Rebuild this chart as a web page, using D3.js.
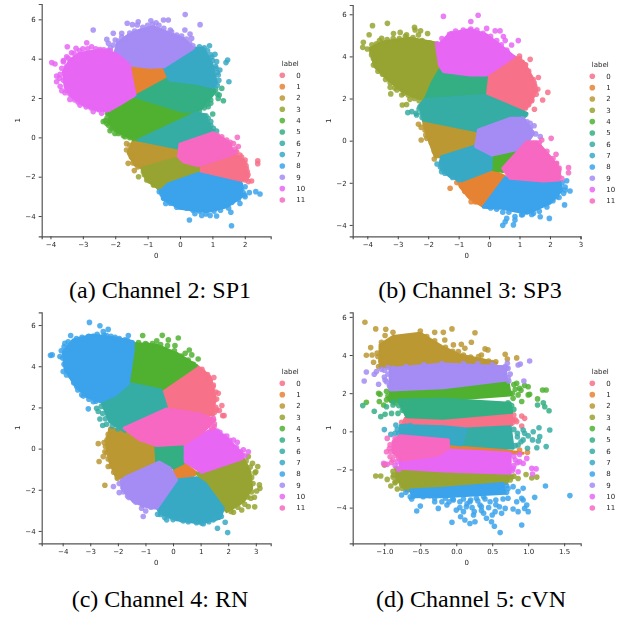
<!DOCTYPE html>
<html>
<head>
<meta charset="utf-8">
<script src="https://cdn.jsdelivr.net/npm/d3@7"></script>
<style>
    body { margin: 0; background: #fff; }
    svg { display: block; }
    .soft { filter: blur(0.45px); }
    .tick text, .small { font-family: "DejaVu Sans", sans-serif; font-size: 7px; fill: #262626; }
    .caption { font-family: "Liberation Serif", serif; font-size: 24px; fill: #000; }
</style>
</head>
<body>
<script>
// Cluster labels and hue colours
const labels = ["0", "1", "2", "3", "4", "5", "6", "7", "8", "9", "10", "11"];
const colors = ["#f77189", "#e68332", "#bb9832", "#97a431", "#50b131", "#34af84",
    "#36ada4", "#38a9c5", "#3ba3ec", "#a48cf4", "#e866f4", "#f668c2"];

// Dense part of every cluster, as x,y outlines in data units (index = label)
const cellsA = [
    [0.57,-1.44, 1.65,-0.85, 1.96,-1.15, 2.11,-2.0, 1.85,-2.25, 0.57,-1.80],
    [-1.57,3.68, -0.49,3.56, -0.36,3.05, -1.39,2.19],
    [-1.44,-0.17, -0.02,-0.56, -0.05,-1.02, -1.18,-1.54, -1.39,-1.41, -1.60,-0.81],
    [-1.18,-1.58, -0.05,-1.03, 0.57,-1.41, 0.57,-1.80, -0.36,-2.34, -0.67,-2.59, -1.03,-2.17],
    [-1.39,1.98, 0.10,1.31, 0.51,1.25, -1.29,-0.14, -1.60,0.03, -2.01,0.37, -2.21,0.80, -2.11,1.31, -1.85,1.64],
    [-0.36,3.00, 0.51,2.75, 1.03,2.54, 1.08,2.32, 0.72,1.56, 0.51,1.31, 0.10,1.31, -1.39,2.07],
    [-1.29,-0.14, 0.51,1.25, 0.77,1.14, 0.98,0.37, 0.98,0.20, 0,-0.31, -0.02,-0.56],
    [-0.49,3.56, 0.41,4.53, 0.72,4.53, 0.98,3.76, 1.13,2.75, 1.03,2.54, 0.51,2.75, -0.31,2.92, -0.36,3.05],
    [0.57,-1.83, 1.90,-2.34, 1.90,-3.02, 1.44,-3.53, 0.82,-3.78, 0,-3.61, -0.46,-3.19, -0.62,-2.76, -0.36,-2.37],
    [-2.01,4.27, -1.93,4.78, -1.60,5.20, -1.23,5.46, -0.82,5.63, -0.31,5.29, 0.10,5.03, 0.41,4.53, -0.49,3.59, -0.93,3.56, -1.57,3.68],
    [-2.01,4.27, -2.47,4.44, -3.09,4.27, -3.40,3.93, -3.60,3.34, -3.55,2.58, -3.34,2.07, -2.98,1.64, -2.57,1.39, -2.21,1.36, -1.85,1.69, -1.39,2.15, -1.57,3.68, -1.85,4.10],
    [0,-0.34, 1.03,0.24, 1.54,-0.31, 1.65,-0.85, 0.57,-1.44, 0.10,-1.24, -0.05,-0.98]
];
const cellsB = [
    [-0.08,3.12, 0.82,3.99, 1.13,3.75, 1.40,3.04, 1.57,2.41, 1.35,1.77, 1.13,1.46, -0.13,2.17],
    [-0.90,-1.95, -0.02,-1.34, 0.53,-1.71, -0.19,-3.13, -0.68,-2.66, -0.95,-2.18],
    [-2.16,0.95, -0.37,0.43, -0.44,-0.28, -1.56,-0.76, -1.77,-0.76, -2.05,0.35],
    [-3.91,4.38, -3.47,4.70, -2.60,4.86, -1.70,4.62, -1.63,3.43, -1.88,2.64, -2.10,1.93, -2.49,2.09, -2.92,2.41, -3.36,2.96, -3.75,3.51],
    [0.07,-0.71, 1.02,-0.41, 0.45,-1.47, 0.07,-1.36],
    [-1.63,3.35, -0.08,3.12, -0.15,2.17, -2.10,1.96, -1.88,2.72],
    [-2.27,1.69, -2.10,1.96, -0.13,2.14, 1.24,1.30, -0.41,0.47, -2.16,0.98],
    [-1.56,-0.76, -0.44,-0.25, 0.07,-0.68, 0.07,-1.36, -0.90,-1.91, -1.28,-1.71, -1.56,-1.39, -1.61,-1.08],
    [0.53,-1.76, 2.33,-1.95, 2.39,-2.34, 2.0,-2.97, 1.24,-3.45, 0.42,-3.21, -0.19,-3.16],
    [-0.35,0.51, 0.69,1.06, 1.13,1.06, 1.46,0.35, 1.13,-0.36, 0.09,-0.68, -0.44,-0.28],
    [-1.72,4.46, -1.28,5.09, -0.62,5.28, -0.08,5.02, 0.42,4.46, 0.82,3.99, -0.08,3.12, -0.62,3.12, -1.50,3.28, -1.63,3.59],
    [0.45,-1.31, 1.24,-0.05, 1.57,-0.05, 2.0,-0.76, 2.33,-1.39, 2.28,-1.87, 1.79,-1.91, 0.69,-1.79]
];
const cellsC = [
    [-0.44,2.85, 0.86,4.03, 1.34,3.50, 1.52,2.52, 1.46,1.63, 0.98,1.68, -0.23,1.96],
    [0.04,-1.04, 0.44,-0.76, 0.86,-1.20, 0.56,-1.44, 0.13,-1.47],
    [-2.29,0.99, -1.74,0.83, -0.63,0.13, -0.59,-0.71, -1.68,-1.36, -2.04,-1.44, -2.29,-0.63, -2.41,0.18],
    [0.86,-1.20, 2.55,-0.50, 2.79,-1.12, 2.85,-1.93, 2.55,-2.57, 1.95,-3.06, 1.70,-2.73, 1.16,-1.68],
    [-1.44,5.11, -0.59,5.03, 0.13,4.63, 0.85,4.03, -0.44,2.85, -1.62,3.22],
    [-0.63,0.23, 0.44,0.23, 0.37,-0.71, 0.01,-0.95, -0.59,-0.71],
    [-2.59,2.28, -1.62,3.17, -0.44,2.85, -0.23,1.96, -1.74,0.83, -2.29,1.31],
    [0.13,-1.52, 0.86,-1.41, 1.16,-1.68, 1.83,-2.90, 1.70,-3.38, 0.98,-3.62, 0.13,-3.46, -0.47,-3.14, -0.59,-2.82],
    [-1.44,4.79, -1.62,3.17, -2.10,2.61, -2.65,2.28, -3.13,2.52, -3.56,3.09, -3.92,3.90, -3.98,4.71, -3.62,5.28, -2.89,5.52, -2.04,5.36, -1.44,5.19],
    [-1.68,-1.36, -0.50,-0.66, -0.11,-0.95, 0.13,-1.52, -0.59,-2.90, -0.96,-2.82, -1.44,-2.57, -1.86,-1.93, -1.86,-1.52],
    [0.44,0.18, 1.46,0.99, 1.95,0.50, 2.55,-0.31, 2.49,-0.50, 1.04,-1.15, 0.44,-0.63],
    [-1.77,0.99, -0.23,1.93, 0.98,1.68, 1.52,1.39, 1.10,0.83, 0.44,0.23, -0.59,0.15, -1.20,0.42]
];
const cellsD = [
    [-0.71,0.68, -0.18,0.68, 0.77,0.94, 0.77,0.33, -0.18,0.19, -0.74,0.37],
    [-0.11,-0.72, 0.05,-0.59, 0.38,-0.80, 0.79,-1.07, 0.93,-1.15, 0.38,-1.15, -0.11,-1.07],
    [-1.06,4.53, -0.88,4.97, -0.50,5.14, -0.20,4.44, 0.05,4.0, 0.38,3.74, 0.56,3.57, -0.83,3.39, -1.06,3.39],
    [-0.83,-1.94, -0.18,-2.08, 0.75,-2.29, 0.70,-2.73, -0.18,-2.99, -0.69,-3.13, -0.83,-2.47],
    [-0.92,2.17, -0.18,2.34, 0.72,2.60, 0.75,1.91, -0.18,1.64, -0.92,1.56],
    [-0.81,1.64, -0.18,1.68, 0.75,1.47, 0.77,1.0, -0.18,0.68, -0.69,0.77],
    [0.14,0.12, 0.75,0.24, 0.79,-0.89, 0.05,-0.68],
    [-0.78,0.30, -0.18,0.24, 0.14,0.12, 0.07,-0.72, -0.13,-0.63, -0.78,-0.37],
    [-0.64,-3.08, -0.18,-2.99, 0.65,-2.73, 0.68,-3.25, -0.18,-3.43, -0.60,-3.43],
    [-0.92,3.30, -0.18,3.53, 0.68,3.39, 0.70,2.69, -0.18,2.29, -0.92,2.17],
    [-0.25,-1.15, -0.11,-0.98, 0.38,-1.07, 0.75,-1.15, 0.75,-2.20, -0.18,-2.08, -0.78,-1.94, -0.78,-1.50],
    [-0.78,-0.23, -0.11,-0.45, -0.11,-0.89, -0.25,-1.24, -0.74,-1.50, -0.88,-1.07, -0.88,-0.54]
];

// Loose points around the dense parts, as x,y pairs (index = label)
const pointsA = [
    [2.40,-1.19, 2.40,-1.34, 2.21,-2.22, 2.01,-1.15, 2.04,-1.44, 2.08,-1.75, 2.01,-2.17, 1.85,-0.9, 2.11,-2.25, 1.9,-1.0, 2.0,-1.3, 2.05,-1.6, 2.1,-1.9, 2.05,-2.1, 1.75,-0.75],
    [],
    [-1.65,-0.32, -1.65,-0.64, -1.41,-1.69, -1.49,-0.98, -1.60,-1.32, -1.55,-0.4, -1.55,-0.7, -1.5,-1.0, -1.45,-1.3, -1.3,-1.5],
    [-1.28,-2.0, -1.03,-2.17, -0.82,-2.42, -1.13,-1.75, -1.1,-1.9, -0.95,-2.2, -0.8,-2.4, -0.65,-2.55],
    [-2.37,0.80, -2.24,1.22, -2.16,0.34, -2.01,0.20, -1.70,0.03, -1.44,-0.05, -2.06,0.63, -2.26,0.71, -1.85,0.29, -2.25,1.0, -2.3,0.85, -2.2,0.6, -2.1,0.45, -1.9,0.2, -1.75,0.1, -1.55,-0.02, -2.2,1.2],
    [1.29,2.49, 1.21,2.15, 1.34,1.86, 1.18,1.98, 0.87,1.56, 1.01,1.19, 0.95,1.73, 1.1,2.45, 1.15,2.2, 0.95,1.9, 0.85,1.7, 0.75,1.5, 0.6,1.35],
    [1.03,0.46, 1.13,0.32, 0.87,0.97, 0.8,1.1, 0.95,0.8, 0.95,0.6, 1.0,0.3],
    [0.91,4.66, 1.08,4.22, 0.98,4.07, 1.13,3.85, 1.47,3.93, 1.42,3.80, 1.23,3.42, 1.18,3.17, 1.51,2.83, 1.11,3.51, 0.85,4.4, 0.95,4.2, 1.0,3.9, 1.1,3.6, 1.15,3.3, 1.2,2.9, 1.15,2.65, 0.6,4.6, 0.75,4.55],
    [2.47,-2.88, 2.34,-2.76, 2.14,-2.81, 2.01,-2.51, 1.99,-2.93, 1.85,-3.36, 1.57,-3.81, 1.59,-4.49, 1.13,-4.0, 0.67,-3.97, 0.29,-4.2, 0.93,-3.97, -0.44,-3.36, -0.64,-2.76, 0,-3.53, 0.46,-3.88, 2.01,-3.02, -0.51,-3.08, 1.9,-2.6, 1.95,-2.8, 1.8,-3.15, 1.6,-3.3, 1.5,-3.6, 1.25,-3.7, 1.05,-3.75, 0.8,-3.9, 0.6,-3.75, 0.4,-3.7, 0.2,-3.6, -0.1,-3.55, -0.3,-3.35, -0.5,-3.1, -0.55,-2.9],
    [0.16,6.24, 0.62,5.73, -2.68,5.46, -1.63,5.80, -1.47,5.73, -1.32,5.71, -1.29,5.88, -0.90,5.93, -0.74,5.83, -0.51,5.97, -0.36,5.97, -0.26,5.37, 0.15,5.46, 0.31,5.25, 0.36,5.03, -2.26,4.98, -2.06,5.29, -1.80,5.29, -2.21,4.78, -2.06,4.69, -1.75,4.86, -1.9,4.9, -1.8,5.1, -1.55,5.3, -1.7,5.0, -1.4,5.4, -1.15,5.6, -1.0,5.7, -0.85,5.75, -0.65,5.7, -0.5,5.55, -0.3,5.45, -0.1,5.2, 0.05,5.15, 0.2,5.0, 0.3,4.8, 0.4,4.65, -2.15,4.55, -2.2,4.4, -2.0,4.95],
    [-3.96,3.80, -3.86,3.73, -3.48,4.61, -3.21,4.53, -2.88,4.81, -2.73,4.61, -2.47,4.47, -2.26,4.39, -3.65,3.51, -3.81,3.12, -3.81,2.83, -3.65,2.37, -3.55,2.27, -3.40,1.93, -3.09,1.64, -2.68,1.31, -2.42,1.22, -2.28,1.39, -3.60,3.85, -3.45,4.02, -3.27,4.27, -3.5,3.6, -3.7,3.2, -3.72,3.0, -3.6,2.9, -3.7,2.6, -3.5,2.4, -3.4,2.2, -3.25,1.9, -3.15,1.8, -2.9,1.55, -2.75,1.5, -2.5,1.4, -3.35,4.3, -3.1,4.4, -3.0,4.5, -2.85,4.5, -2.6,4.5, -2.35,4.45, -2.15,4.4, -3.5,4.1, -3.6,3.9],
    [1.77,0, 1.29,0.03, 1.44,-0.14, 1.80,-0.47, 1.65,-0.31, 1.15,0.1, 1.3,-0.1, 1.55,-0.25, 1.7,-0.6, 1.7,-0.75]
];
const pointsB = [
    [1.0,4.02, 1.35,3.86, 1.18,3.59, 1.62,3.0, 1.48,2.75, 1.93,2.29, 1.76,1.93, 1.49,1.49, 1.60,2.44, 1.40,1.93, 1.18,1.61, 1.24,3.2, 1.0,3.9, 1.2,3.6, 1.3,3.3, 1.45,2.9, 1.5,2.6, 1.55,2.2, 1.4,1.9, 1.3,1.7, 1.2,1.55],
    [-1.28,-2.26, -1.06,-1.99, -0.59,-2.90, -0.46,-2.90, -0.76,-2.42, -0.95,-2.05, -0.8,-2.4, -0.6,-2.7, -0.4,-2.9],
    [-2.32,0.78, -2.23,0.63, -2.23,0.03, -2.08,0.27, -1.96,0.27, -1.80,-0.87, -2.05,0.11, -2.1,0.75, -2.1,0.5, -2.0,0.2, -1.9,-0.1, -1.8,-0.5],
    [-3.83,5.46, -3.34,5.57, -3.94,5.03, -4.13,4.67, -4.15,4.43, -3.53,4.86, -3.14,5.09, -2.92,5.14, -2.71,5.02, -2.45,5.38, -2.43,5.25, -2.25,5.22, -2.02,5.09, -2.32,5.02, -3.25,2.53, -3.23,2.22, -2.87,2.17, -2.60,1.96, -2.85,1.69, -2.71,1.72, -3.03,2.41, -3.86,4.07, -3.80,3.59, -3.85,4.2, -4.0,4.35, -3.85,4.55, -3.7,4.6, -3.6,4.75, -3.35,4.8, -3.15,4.85, -2.95,4.85, -2.75,4.95, -2.5,4.9, -2.2,4.75, -1.95,4.65, -3.8,3.9, -3.75,3.7, -3.65,3.3, -3.5,3.15, -3.4,2.9, -3.25,2.75, -3.1,2.5, -2.8,2.25, -2.65,2.15, -2.45,2.0, -2.3,1.9],
    [],
    [],
    [-2.67,1.33, -2.54,1.38, -2.38,1.22, -2.21,1.30, -2.27,1.61, -2.10,1.14, -2.3,1.5, -2.4,1.3, -2.2,1.1, 1.2,1.25, 1.15,1.2, 0.95,1.3],
    [-1.71,-1.11, -1.56,-1.47, -1.6,-1.25, -1.45,-1.55, -1.2,-1.75, -1.0,-1.85],
    [2.55,-1.90, 2.66,-2.39, 2.48,-3.05, 2.50,-2.34, 2.22,-2.66, 1.98,-3.69, 1.68,-3.61, 1.07,-3.53, 0.45,-4.02, 0.80,-4.0, 0.85,-3.77, 0.58,-3.69, 0.53,-3.85, 1.46,-3.45, 2.5,-2.2, 2.45,-2.5, 2.3,-2.7, 2.1,-2.85, 1.9,-3.15, 1.65,-3.35, 1.4,-3.5, 1.1,-3.5, 0.85,-3.6, 0.65,-3.4, 0.45,-3.4, 0.25,-3.25, 0.05,-3.2, 2.4,-2.0],
    [1.48,0.71, 1.35,0.82, 1.53,0.32, 1.68,0.19, 1.29,0.35, 1.13,0.90, 1.25,0.9, 1.35,0.6, 1.4,0.4, 1.25,0.1],
    [-1.50,5.90, -0.36,5.95, -0.60,5.66, -0.08,5.33, 0.20,5.21, 0.36,5.21, 0.47,4.94, 0.96,4.75, 0.74,4.54, 0.53,4.75, 0.58,4.30, -1.23,5.09, -1.7,4.6, -1.55,4.85, -1.3,5.05, -1.1,5.2, -0.85,5.25, -0.6,5.3, -0.4,5.25, -0.2,5.1, 0.05,4.95, 0.25,4.75, 0.4,4.55, 0.6,4.2],
    [2.04,0.11, 1.73,0.03, 2.20,-0.65, 2.61,-1.28, 2.61,-1.52, 2.39,-1.80, 2.22,-1.08, 2.28,-1.39, 1.65,-0.1, 1.9,-0.5, 2.1,-0.85, 2.2,-1.1, 2.3,-1.3, 2.3,-1.7]
];
const pointsC = [
    [1.10,3.69, 1.48,3.45, 1.64,2.69, 1.46,3.09, 1.58,2.41, 1.77,2.09, 1.80,1.60, 1.85,1.60, 1.58,1.88, 1.68,1.85, 1.16,3.58, 1.05,3.85, 1.25,3.6, 1.35,3.3, 1.45,3.0, 1.55,2.75, 1.5,2.35, 1.55,2.0, 1.5,1.75],
    [],
    [-2.71,0.24, -2.50,0.29, -2.35,0.53, -2.26,0.91, -2.68,-0.63, -2.47,-0.15, -2.53,-0.39, -2.47,-1.78, -2.02,-1.44, -2.35,-0.87, -2.35,0.7, -2.4,0.4, -2.45,0.1, -2.4,-0.2, -2.35,-0.5, -2.25,-0.85, -2.15,-1.15],
    [2.73,-0.39, 2.88,-0.71, 3.07,-0.87, 2.97,-1.17, 3.13,-1.76, 3.15,-1.93, 3.03,-2.06, 2.95,-2.36, 2.96,-2.83, 2.73,-2.81, 2.49,-2.98, 2.19,-3.09, 2.82,-2.41, 3.0,-1.13, 2.65,-0.6, 2.8,-0.9, 2.85,-1.4, 2.9,-1.7, 2.85,-2.1, 2.7,-2.35, 2.6,-2.7, 2.35,-2.85, 2.1,-3.05],
    [-1.10,5.49, -0.59,5.23, -0.39,5.50, -0.17,5.28, 0.19,5.37, 0.59,4.79, 0.68,4.55, 0.91,4.35, 0.74,4.09, 0.44,4.63, -0.96,5.06, 0.07,5.0, -1.25,5.15, -1.0,5.1, -0.75,5.1, -0.45,5.05, -0.2,5.0, 0.05,4.75, 0.3,4.5, 0.55,4.3, 0.7,4.1],
    [],
    [-2.77,1.96, -2.65,1.44, -2.55,1.12, -2.41,1.18, -2.71,1.80, -2.35,1.63, -2.6,2.05, -2.55,1.7, -2.45,1.45, -2.2,1.1, -2.0,0.95],
    [1.98,-4.08, 1.61,-3.87, 1.89,-3.58, -0.56,-3.19, -0.23,-3.46, 0.37,-3.51, 1.04,-3.62, 1.46,-3.46, 1.70,-3.22, 1.75,-3.3, 1.5,-3.4, 1.3,-3.55, 1.1,-3.65, 0.85,-3.6, 0.55,-3.55, 0.3,-3.45, 0,-3.45, -0.3,-3.35, -0.45,-3.2],
    [-3.03,6.13, -2.65,5.97, -2.35,5.79, -2.53,5.68, -4.38,4.55, -4.44,4.53, -4.10,4.47, -3.92,5.11, -3.80,5.19, -3.71,5.49, -3.07,5.44, -2.41,5.49, -2.10,5.40, -1.62,5.49, -3.98,3.74, -3.86,3.58, -3.07,1.93, -3.49,3.01, -2.89,2.28, -1.74,5.28, -3.31,2.61, -3.95,4.95, -4.05,4.75, -4.0,4.4, -3.95,4.1, -3.85,3.8, -3.7,3.5, -3.6,3.2, -3.45,2.85, -3.25,2.55, -3.05,2.4, -2.8,2.3, -3.5,5.35, -3.3,5.4, -3.05,5.45, -2.75,5.55, -2.5,5.5, -2.25,5.45, -1.95,5.35, -1.65,5.25],
    [-2.16,-1.84, -1.95,-2.14, -1.84,-1.60, -1.14,-2.90, -0.99,-3.03, -1.08,-3.30, -1.60,-2.38, -1.95,-1.7, -1.8,-2.1, -1.65,-2.3, -1.35,-2.6, -1.1,-2.75, -0.8,-2.85],
    [1.70,0.79, 1.95,0.61, 2.19,0.42, 2.33,0.31, 2.73,-0.15, 2.55,-0.06, 1.46,0.91, 2.13,0.02, 1.6,0.85, 1.85,0.6, 2.05,0.4, 2.3,0.05, 2.45,-0.15, 2.6,-0.35],
    [1.49,1.07, 1.46,1.47, 1.5,1.2, 1.4,1.0]
];
const pointsD = [
    [-0.76,0.47, 0.91,0.80, 0.95,0.68, 0.84,0.51, 0.91,0.28, 0.79,0.59, -0.7,0.55, -0.72,0.4, 0.8,0.85, 0.82,0.6, 0.78,0.45],
    [0.99,-1.10, 0.88,-0.98],
    [-1.27,5.72, -1.12,5.37, -0.98,5.35, -0.88,5.19, -0.50,5.26, -0.30,5.19, -0.18,5.19, -0.06,5.37, 0.26,5.17, 0.21,4.67, 0.40,4.32, 0.44,4.27, -1.19,4.39, -1.25,3.99, -1.17,4.0, -1.09,3.92, -1.15,3.62, -1.08,3.39, -1.04,4.67, -0.99,5.02, -0.83,4.88, -0.69,4.97, -0.41,4.97, -0.16,4.79, -0.04,4.53, 0.07,4.56, 0.12,4.35, 0.03,4.18, 0.31,3.92, 0.35,4.0, 0.45,3.69, 0.55,3.65, 0.68,4.04, 0.71,3.79, 0.84,3.85, 0.17,3.74, -1.02,4.3, -0.95,4.6, -0.8,4.75, -0.6,4.85, -0.45,4.95, -0.3,4.75, -0.15,4.4, -0.05,4.2, 0.1,4.0, 0.2,3.9, 0.35,3.7, 0.5,3.6, -1.05,3.7, -1.1,4.1],
    [-1.12,-2.34, -1.05,-2.34, -0.96,-2.52, -0.91,-2.87, -1.0,-1.77, -0.83,-1.94, -0.87,-2.29, -0.82,-3.02, -0.76,-2.82, -0.85,-2.64, 0.97,-2.26, 1.05,-2.45, 1.12,-2.40, 0.86,-2.47, 0.77,-2.40, -0.78,-2.12, -0.88,-2.1, -0.88,-2.4, -0.85,-2.7, -0.75,-3.0, 0.8,-2.35, 0.75,-2.55],
    [-1.25,1.52, -1.08,1.99, -1.06,1.94, -1.07,1.56, -0.93,1.73, -1.01,1.38, 0.75,2.0, 0.84,2.52, 0.88,2.26, 1.0,2.34, 1.02,1.94, 1.0,1.91, 1.20,2.17, 1.25,2.17, 1.13,1.70, 0.91,1.56, 0.79,1.73, 0.86,1.91, -0.97,2.1, -0.95,1.85, -0.97,1.65, -0.85,1.5, 0.8,2.45, 0.82,2.2, 0.78,2.0, 0.9,2.15, 0.95,2.4],
    [-1.30,1.35, -1.14,1.05, -1.05,0.77, -0.99,0.89, -0.88,1.38, -0.97,1.29, -0.90,0.94, -0.81,0.94, 1.13,1.38, 1.21,1.50, 1.29,1.08, 1.23,1.29, -0.88,1.55, -0.8,1.35, -0.75,1.1, -0.68,0.85, 0.77,1.35, 0.8,1.15, 0.75,1.05, 0.72,1.5],
    [1.30,0.07, 1.15,0.19, 1.07,-0.02, 0.93,0.07, 1.0,-0.24, 1.16,-0.28, 1.06,-0.45, 1.14,-0.51, 1.25,-0.80, 1.12,-0.86, 0.99,-0.89, 0.86,-0.72, 0.93,-0.45, 0.8,0.1, 0.85,-0.1, 0.85,-0.3, 0.9,-0.55, 0.82,-0.75, 0.95,-0.1],
    [-1.0,0.09, -0.91,-0.16, -0.84,0.33, -0.85,-0.10, -0.76,0.24, -0.64,0.30, -0.82,0.1, -0.8,-0.1, -0.75,-0.25, -0.7,0.28],
    [1.58,-3.37, 1.24,-2.87, 1.09,-3.46, 0.93,-2.99, 0.91,-3.51, 0.84,-3.69, 0.98,-3.86, 0.93,-3.60, 0.86,-3.16, 0.79,-2.90, 1.0,-4.21, 0.95,-4.04, 0.91,-4.91, 0.61,-5.31, 0.53,-4.98, 0.49,-4.74, 0.42,-4.56, 0.38,-4.30, 0.26,-4.74, 0.24,-4.39, 0.19,-4.83, -0.06,-4.77, 0.06,-4.48, 0.12,-4.65, 0.10,-4.21, 0,-4.13, -0.13,-3.86, -0.25,-4.04, -0.30,-3.69, -0.55,-4.18, -0.50,-3.92, -0.62,-3.55, -0.76,-3.34, -0.64,-3.43, -0.46,-3.43, -0.37,-3.37, -0.20,-3.69, -0.04,-3.60, 0.14,-3.95, 0.33,-3.86, 0.54,-4.21, 0.68,-4.04, 0.79,-4.07, 0.86,-4.21, 0.63,-4.30, 0.50,-4.39, 0.72,-3.51, 0.19,-3.69, 0.28,-3.51, 0.47,-3.69, 0.05,-3.69, 0.38,-3.43, -0.7,-3.2, -0.6,-3.4, -0.45,-3.25, -0.3,-3.5, -0.15,-3.5, -0.05,-3.55, 0.1,-3.55, 0.2,-3.6, 0.3,-3.65, 0.4,-3.55, 0.55,-3.6, 0.65,-3.55, 0.7,-3.2, 0.72,-3.0, 0.7,-2.85, 0.15,-3.8, 0.22,-4.0, 0.35,-3.95, 0.45,-4.0, 0.55,-3.85, 0.6,-3.95, 0.35,-4.15, 0.25,-4.2, 0.05,-4.0, -0.1,-3.7],
    [-1.28,2.64, -1.25,3.11, -1.14,2.99, -1.11,3.13, -1.04,3.25, -1.08,2.47, -0.99,2.69, -0.92,2.34, 0.71,3.57, 0.86,3.48, 0.89,3.53, 1.02,3.69, 0.94,2.64, 0.73,2.64, 0.63,3.07, 0.70,3.32, -1.0,3.2, -0.95,3.0, -1.0,2.85, -0.97,2.6, -0.93,2.4, -0.88,3.3, -0.95,3.35, -0.7,3.4, -0.45,3.5, -0.2,3.55, 0.1,3.55, 0.3,3.55, 0.5,3.5, 0.72,3.3, 0.75,3.0, 0.72,2.8, 0.68,3.4],
    [-1.01,-1.68, -0.96,-1.73, 0.88,-1.21, 0.98,-1.42, 1.05,-1.94, 1.11,-1.97, 1.06,-2.24, 0.93,-1.68, 0.86,-2.12, 0.79,-1.94, 0.88,-1.59, 0.75,-1.94, -0.82,-1.6, -0.85,-1.8, -0.8,-2.0, 0.8,-1.3, 0.82,-1.5, 0.8,-1.8, 0.85,-1.65, 0.78,-2.05],
    [-0.96,-0.37, -0.97,-1.07, -0.91,-1.07, -0.88,-1.50, -0.90,-1.63, -0.78,-1.42, -0.85,-0.37, -0.99,-1.73, -0.92,-1.33, -0.92,-0.7, -0.93,-0.9, -0.85,-1.25, -0.8,-1.4]
];

// Axis limits and tick labels per panel
const xLimits = [[-4.27, 2.80], [-4.48, 3.01], [-4.76, 3.54], [-1.44, 1.73]];
const yLimits = [[-5.03, 6.78], [-4.54, 6.44], [-4.60, 6.62], [-5.87, 6.24]];
const xTicks = [[-4, -3, -2, -1, 0, 1, 2], [-4, -3, -2, -1, 0, 1, 2, 3], [-4, -3, -2, -1, 0, 1, 2, 3], [-1, -0.5, 0, 0.5, 1, 1.5]];
const yTicks = [[-4, -2, 0, 2, 4, 6], [-4, -2, 0, 2, 4, 6], [-4, -2, 0, 2, 4, 6], [-4, -2, 0, 2, 4, 6]];
const captions = ["(a) Channel 2: SP1", "(b) Channel 3: SP3", "(c) Channel 4: RN", "(d) Channel 5: cVN"];

const allCells = [cellsA, cellsB, cellsC, cellsD];
const allPoints = [pointsA, pointsB, pointsC, pointsD];

// Plot frames on the page
const frames = [
    { left: 41.7, right: 270.7, top: 4, bottom: 236.3, legendY: 63, captionX: 160, captionY: 298 },
    { left: 352.7, right: 580.7, top: 5, bottom: 236.3, legendY: 64, captionX: 470, captionY: 298 },
    { left: 41.7, right: 270.7, top: 312.3, bottom: 543.3, legendY: 371, captionX: 160, captionY: 607 },
    { left: 352.7, right: 580.7, top: 312.3, bottom: 543.3, legendY: 371, captionX: 471, captionY: 607 }
];

const svg = d3.select("body").append("svg")
    .attr("width", 618)
    .attr("height", 617);

// flat [x, y, x, y] to [[x, y], [x, y]]
const pairs = flat => d3.range(0, flat.length, 2).map(i => [flat[i], flat[i + 1]]);

frames.forEach((f, p) => renderPanel(f, p));

function renderPanel(f, p) {
    const xScale = d3.scaleLinear().domain(xLimits[p]).range([f.left, f.right]);
    const yScale = d3.scaleLinear().domain(yLimits[p]).range([f.bottom, f.top]);
    const line = d3.line().x(d => xScale(d[0])).y(d => yScale(d[1])).curve(d3.curveLinearClosed);

    const g = svg.append("g").attr("class", "soft");

    // Later labels are drawn over earlier ones
    labels.forEach((label, i) => {
        const group = g.append("g");
        group.append("path")
            .attr("d", line(pairs(allCells[p][i])))
            .attr("fill", colors[i])
            .attr("stroke", colors[i])
            .attr("stroke-width", 3)
            .attr("stroke-linejoin", "round");
        group.selectAll("circle")
            .data(pairs(allPoints[p][i]))
            .enter()
            .append("circle")
            .attr("cx", d => xScale(d[0]))
            .attr("cy", d => yScale(d[1]))
            .attr("r", 2.8)
            .attr("fill", colors[i])
            .attr("opacity", 0.85);
    });

    // Axes
    const xAxis = d3.axisBottom(xScale).tickValues(xTicks[p]).tickSize(3).tickPadding(3)
        .tickFormat(d => (p === 3 ? d3.format(".1f")(d) : d3.format("d")(d)).replace("-", "\u2212"));
    const yAxis = d3.axisLeft(yScale).tickValues(yTicks[p]).tickSize(3).tickPadding(3)
        .tickFormat(d => String(d).replace("-", "\u2212"));

    [g.append("g").attr("transform", `translate(0, ${f.bottom})`).call(xAxis),
     g.append("g").attr("transform", `translate(${f.left}, 0)`).call(yAxis)].forEach(a => {
        a.attr("font-family", null).attr("font-size", null);
        a.selectAll("line").attr("stroke", "#444");
        a.select(".domain").attr("stroke", "#555").attr("stroke-width", 1.2);
    });

    // Labels
    g.append("text")
        .attr("class", "small")
        .attr("x", (f.left + f.right) / 2)
        .attr("y", f.bottom + 22)
        .style("text-anchor", "middle")
        .text("0");
    g.append("text")
        .attr("class", "small")
        .attr("transform", `translate(${f.left - 21.5}, ${(f.top + f.bottom) / 2}) rotate(-90)`)
        .style("text-anchor", "middle")
        .text("1");

    // Legend
    g.append("text")
        .attr("class", "small")
        .attr("x", f.right + 19.5)
        .attr("y", f.legendY + 2.5)
        .style("text-anchor", "middle")
        .text("label");
    labels.forEach((label, i) => {
        const y = f.legendY + 12.3 + i * 11.33;
        g.append("circle")
            .attr("cx", f.right + 11.6)
            .attr("cy", y)
            .attr("r", 2.8)
            .attr("fill", colors[i])
            .attr("opacity", 0.85);
        g.append("text")
            .attr("class", "small")
            .attr("x", f.right + 25.6)
            .attr("y", y + 2.5)
            .text(label);
    });

    svg.append("text")
        .attr("class", "caption")
        .attr("x", f.captionX)
        .attr("y", f.captionY)
        .style("text-anchor", "middle")
        .text(captions[p]);
}
</script>
</body>
</html>
